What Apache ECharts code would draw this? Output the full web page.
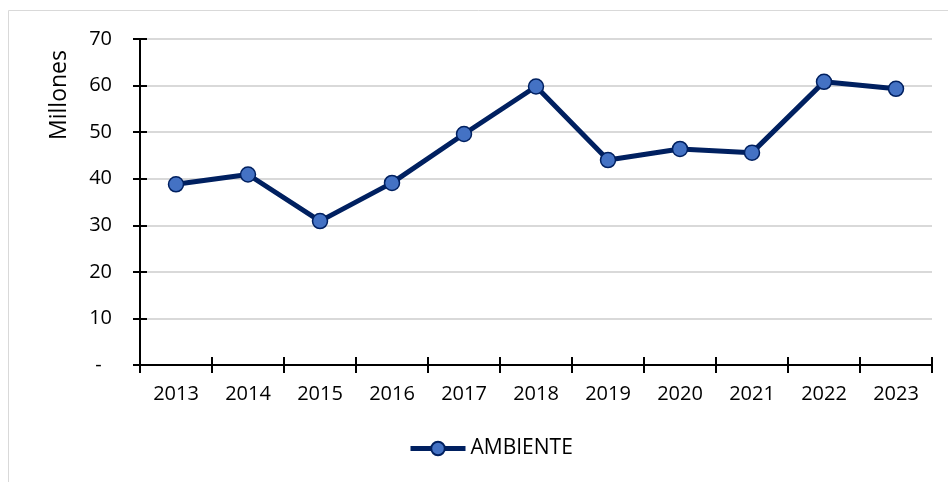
<!DOCTYPE html>
<html>
<head>
<meta charset="utf-8">
<script src="https://cdn.jsdelivr.net/npm/echarts@6/dist/echarts.min.js"></script>
<style>
  html, body { margin: 0; padding: 0; background: #fff; }
  #chart { width: 948px; height: 482px; }
</style>
</head>
<body>
<div id="chart"></div>
<script>
const years = ['2013', '2014', '2015', '2016', '2017', '2018', '2019', '2020', '2021', '2022', '2023'];
const ambiente = [38.8, 40.9, 30.9, 39.1, 49.6, 59.8, 44.0, 46.4, 45.6, 60.8, 59.3];
const seriesName = 'AMBIENTE';
const yTitle = 'Millones';

const font = '"Open Sans", "Noto Sans", sans-serif';
const navy = '#002060';

const chart = echarts.init(document.getElementById('chart'));

const option = {
  animation: false,
  textStyle: { fontFamily: font },
  grid: { left: 140, right: 16, top: 39, bottom: 117 },
  graphic: [
    {
      type: 'rect',
      shape: { x: 8.5, y: 10.5, width: 960, height: 500 },
      style: { fill: 'none', stroke: '#d9d9d9', lineWidth: 1 },
      silent: true
    },
    {
      type: 'text',
      x: 59, y: 95,
      rotation: Math.PI / 2,
      style: {
        text: yTitle, font: '23px ' + font, fill: '#000',
        align: 'center', verticalAlign: 'middle'
      }
    }
  ],
  legend: {
    top: 438,
    left: 408,
    padding: 0,
    itemWidth: 55,
    itemHeight: 17,
    lineStyle: { width: 5 },
    textStyle: { fontSize: 21, color: '#000', fontFamily: font },
    data: [seriesName]
  },
  xAxis: [
    {
      type: 'category',
      data: years,
      boundaryGap: true,
      axisLine: { lineStyle: { color: '#000', width: 2 } },
      axisTick: { show: true, length: 8, lineStyle: { color: '#000', width: 2 } },
      axisLabel: { color: '#000', fontSize: 20, margin: 19, fontFamily: font },
      splitLine: { show: false }
    },
    {
      type: 'category',
      data: years,
      position: 'bottom',
      boundaryGap: true,
      axisLine: { show: false },
      axisTick: { show: true, inside: true, length: 8, lineStyle: { color: '#000', width: 2 } },
      axisLabel: { show: false },
      splitLine: { show: false }
    }
  ],
  yAxis: [
    {
      type: 'value',
      min: 0, max: 70, interval: 10,
      axisLine: { show: true, lineStyle: { color: '#000', width: 2 } },
      axisTick: { show: true, length: 7, lineStyle: { color: '#000', width: 2 } },
      axisLabel: {
        color: '#000', fontSize: 20, margin: 28, fontFamily: font,
        formatter: v => v === 0 ? '-  ' : String(v)
      },
      splitLine: { show: true, lineStyle: { color: '#d9d9d9', width: 2 } }
    },
    {
      type: 'value',
      position: 'left',
      min: 0, max: 70, interval: 10,
      axisLine: { show: false },
      axisTick: { show: true, inside: true, length: 7, lineStyle: { color: '#000', width: 2 } },
      axisLabel: { show: false },
      splitLine: { show: false }
    }
  ],
  series: [
    {
      name: seriesName,
      type: 'line',
      data: ambiente,
      symbol: 'circle',
      symbolSize: 15,
      lineStyle: { color: navy, width: 5 },
      itemStyle: { color: '#4472c4', borderColor: navy, borderWidth: 1.5 },
      z: 3
    }
  ]
};

chart.setOption(option);
</script>
</body>
</html>
